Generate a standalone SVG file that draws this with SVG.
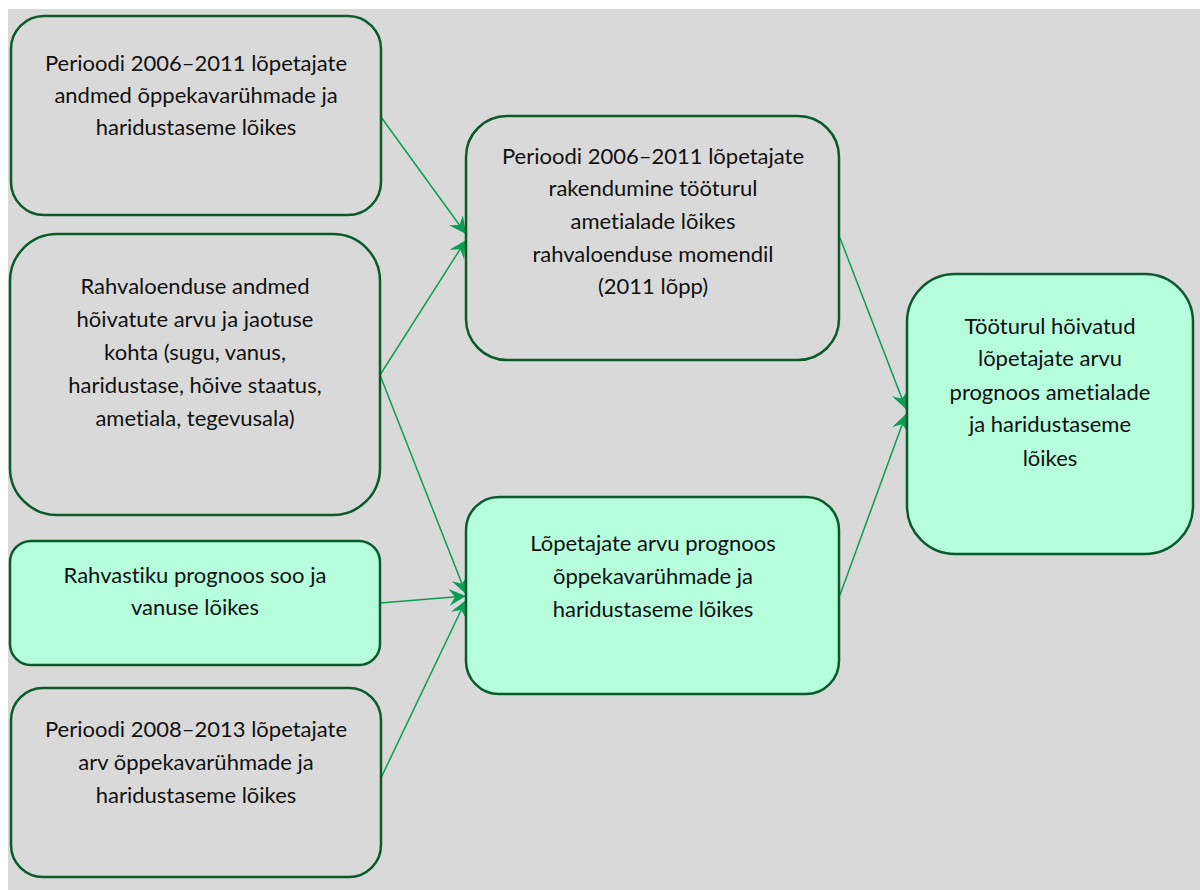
<svg xmlns="http://www.w3.org/2000/svg" width="1200" height="890" viewBox="0 0 1200 890">
<style>
.box{stroke:#0a5a2c;stroke-width:2.5}
.g{fill:#d9d9d9}
.m{fill:#b6fddc}
text{font-family:Lato,"Open Sans","Liberation Sans",sans-serif;font-size:22px;fill:#111;text-anchor:middle;font-variant-ligatures:none;font-feature-settings:"liga" 0}
.c{stroke:#0a9e52;stroke-width:1.5;fill:none;marker-end:url(#ah)}
</style>
<defs>
<marker id="ah" markerUnits="userSpaceOnUse" markerWidth="19" markerHeight="17" refX="17" refY="8.5" orient="auto" viewBox="0 0 19 17">
<path d="M0,0 L17,8.5 L0,17 L6,8.5 z" fill="#0a9e52"/>
</marker>
</defs>
<rect x="0" y="0" width="1200" height="890" fill="#ffffff"/>
<rect x="8" y="9" width="1192" height="881" fill="#d9d9d9"/>
<g id="connectors">
<line class="c" x1="381" y1="117" x2="466" y2="234"/>
<line class="c" x1="380" y1="375" x2="466" y2="240"/>
<line class="c" x1="380" y1="375" x2="466" y2="594"/>
<line class="c" x1="380" y1="603" x2="466" y2="596"/>
<line class="c" x1="380" y1="780" x2="466" y2="600"/>
<line class="c" x1="840" y1="238" x2="906" y2="409"/>
<line class="c" x1="840" y1="595" x2="906" y2="414"/>
</g>
<g id="nodeA">
<rect class="box g" x="11" y="16" width="370" height="199" rx="33"/>
<text x="196" y="70.5">Perioodi 2006–2011 lõpetajate</text>
<text x="196" y="103">andmed õppekavarühmade ja</text>
<text x="196" y="135">haridustaseme lõikes</text>
</g>
<g id="nodeB">
<rect class="box g" x="10" y="234" width="370" height="281" rx="47"/>
<text x="195" y="294">Rahvaloenduse andmed</text>
<text x="195" y="326.5">hõivatute arvu ja jaotuse</text>
<text x="195" y="359.5">kohta (sugu, vanus,</text>
<text x="195" y="392.5">haridustase, hõive staatus,</text>
<text x="195" y="425.5">ametiala, tegevusala)</text>
</g>
<g id="nodeC">
<rect class="box m" x="10" y="541" width="370" height="124" rx="21"/>
<text x="195" y="583">Rahvastiku prognoos soo ja</text>
<text x="195" y="615">vanuse lõikes</text>
</g>
<g id="nodeD">
<rect class="box g" x="11" y="688" width="370" height="189" rx="32"/>
<text x="196" y="737">Perioodi 2008–2013 lõpetajate</text>
<text x="196" y="770">arv õppekavarühmade ja</text>
<text x="196" y="803">haridustaseme lõikes</text>
</g>
<g id="nodeE">
<rect class="box g" x="466" y="116" width="373" height="244" rx="41"/>
<text x="653" y="164">Perioodi 2006–2011 lõpetajate</text>
<text x="653" y="196">rakendumine tööturul</text>
<text x="653" y="229">ametialade lõikes</text>
<text x="653" y="261.5">rahvaloenduse momendil</text>
<text x="653" y="294">(2011 lõpp)</text>
</g>
<g id="nodeF">
<rect class="box m" x="466" y="497" width="373" height="197" rx="33"/>
<text x="653" y="551">Lõpetajate arvu prognoos</text>
<text x="653" y="584">õppekavarühmade ja</text>
<text x="653" y="617">haridustaseme lõikes</text>
</g>
<g id="nodeG">
<rect class="box m" x="907" y="274" width="286" height="280" rx="48"/>
<text x="1050" y="334">Tööturul hõivatud</text>
<text x="1050" y="366">lõpetajate arvu</text>
<text x="1050" y="400">prognoos ametialade</text>
<text x="1050" y="432">ja haridustaseme</text>
<text x="1050" y="465.5">lõikes</text>
</g>
</svg>
